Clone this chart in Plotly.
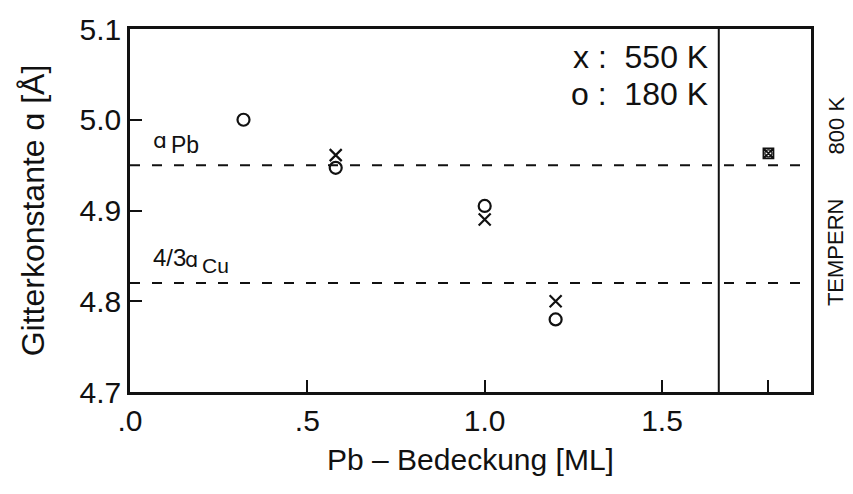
import plotly.graph_objects as go

# Lattice constant vs. Pb coverage
coverage_550 = [0.58, 1.00, 1.20]
lattice_550 = [4.961, 4.890, 4.800]
coverage_180 = [0.32, 0.58, 1.00, 1.20]
lattice_180 = [5.000, 4.947, 4.905, 4.780]

# after annealing at 800 K
coverage_anneal = [1.80]
lattice_anneal = [4.963]

# reference lattice constants
a_pb = 4.95
a_cu_43 = 4.82

panel_split = 1.66
x_max = 1.92

x_ticks = [0.0, 0.5, 1.0, 1.5, 1.8]
x_ticklabels = [".0", ".5", "1.0", "1.5", " "]
y_ticks = [4.7, 4.8, 4.9, 5.0, 5.1]
y_ticklabels = ["4.7", "4.8", "4.9", "5.0", "5.1"]

FONT = "Liberation Sans, Arial, sans-serif"
ALPHA_FONT = "DejaVu Sans, sans-serif"
BLACK = "#111111"

fig = go.Figure()

fig.add_trace(go.Scatter(
    x=coverage_550, y=lattice_550, mode="markers",
    marker=dict(symbol="x-thin-open", size=12, color=BLACK,
                line=dict(width=2.2, color=BLACK)),
    showlegend=False,
))
fig.add_trace(go.Scatter(
    x=coverage_180, y=lattice_180, mode="markers",
    marker=dict(symbol="circle-open", size=12, color=BLACK,
                line=dict(width=2.2, color=BLACK)),
    showlegend=False,
))
fig.add_trace(go.Scatter(
    x=coverage_anneal, y=lattice_anneal, mode="markers",
    marker=dict(symbol="square-x-open", size=10, color=BLACK,
                line=dict(width=1.8, color=BLACK)),
    showlegend=False,
))
fig.add_trace(go.Scatter(
    x=coverage_anneal, y=lattice_anneal, mode="markers",
    marker=dict(symbol="circle-open", size=7, color=BLACK,
                line=dict(width=1.3, color=BLACK)),
    showlegend=False,
))

# dashed reference lines across both panels
for yv in (a_pb, a_cu_43):
    fig.add_shape(type="line", xref="x", yref="y", x0=0, x1=x_max, y0=yv, y1=yv,
                  line=dict(color=BLACK, width=2, dash="10px,12px"))

# divider between coverage series and annealed sample
fig.add_shape(type="line", xref="x", yref="paper", x0=panel_split, x1=panel_split,
              y0=0, y1=1, line=dict(color=BLACK, width=2))

# line labels: a_Pb and 4/3 a_Cu
labels = [
    dict(x=0.058, y=4.977, text="ɑ", size=22, family=ALPHA_FONT),
    dict(x=0.111, y=4.972, text="Pb", size=23, family=FONT),
    dict(x=0.058, y=4.848, text="4/3", size=24, family=FONT),
    dict(x=0.150, y=4.846, text="ɑ", size=21, family=ALPHA_FONT),
    dict(x=0.196, y=4.839, text="Cu", size=21, family=FONT),
]
for lb in labels:
    fig.add_annotation(xref="x", yref="y", x=lb["x"], y=lb["y"], text=lb["text"],
                       showarrow=False, xanchor="left", yanchor="middle",
                       font=dict(family=lb["family"], size=lb["size"], color=BLACK))

fig.add_annotation(xref="x", yref="paper", x=1.635, y=0.922, text="x :  550 K",
                   showarrow=False, xanchor="right", yanchor="middle",
                   font=dict(family=FONT, size=32, color=BLACK))
fig.add_annotation(xref="x", yref="paper", x=1.635, y=0.821, text="o :  180 K",
                   showarrow=False, xanchor="right", yanchor="middle",
                   font=dict(family=FONT, size=32, color=BLACK))
fig.add_annotation(xref="paper", yref="paper", x=1.037, y=0.386, text="TEMPERN",
                   textangle=-90, showarrow=False, xanchor="center", yanchor="middle",
                   font=dict(family=FONT, size=22, color=BLACK))
fig.add_annotation(xref="paper", yref="paper", x=1.037, y=0.735, text="800 K",
                   textangle=-90, showarrow=False, xanchor="center", yanchor="middle",
                   font=dict(family=FONT, size=22, color=BLACK))

fig.update_layout(
    width=853, height=494,
    margin=dict(l=130, r=42, t=18, b=102),
    paper_bgcolor="white", plot_bgcolor="white",
    font=dict(family=FONT, color=BLACK),
    xaxis=dict(
        range=[0, x_max], tickvals=x_ticks, ticktext=x_ticklabels,
        ticks="inside", ticklen=12, tickwidth=2, tickcolor=BLACK,
        showline=True, linewidth=2.5, linecolor=BLACK, mirror=True,
        showgrid=False, zeroline=False,
        tickfont=dict(family=FONT, size=30, color=BLACK),
        title=dict(text="Pb – Bedeckung [ML]", standoff=14,
                   font=dict(family=FONT, size=30, color=BLACK)),
    ),
    yaxis=dict(
        range=[4.7, 5.1], tickvals=y_ticks, ticktext=y_ticklabels,
        ticks="inside", ticklen=12, tickwidth=2, tickcolor=BLACK,
        showline=True, linewidth=2.5, linecolor=BLACK, mirror=True,
        showgrid=False, zeroline=False,
        tickfont=dict(family=FONT, size=30, color=BLACK),
        title=dict(text="Gitterkonstante ɑ [Å]", standoff=26,
                   font=dict(family=FONT, size=32, color=BLACK)),
    ),
)

fig.write_html("out.html")
